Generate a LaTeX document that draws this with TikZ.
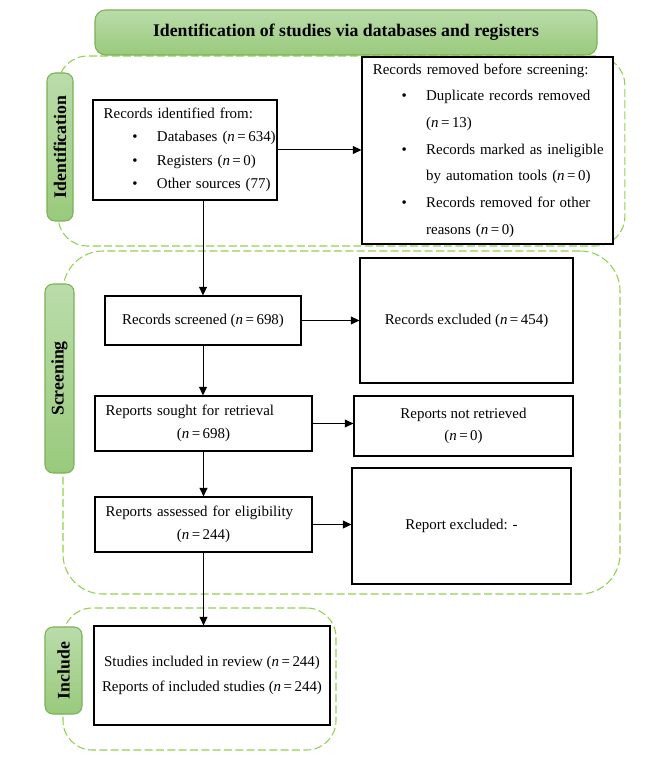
\documentclass[tikz,border=0pt]{standalone}
\usepackage{fontspec}
\setmainfont{Liberation Serif}
\usetikzlibrary{arrows.meta,positioning}

\definecolor{dashgreen}{RGB}{146,208,80}
\definecolor{bargreen}{RGB}{122,178,86}
\definecolor{lightgreen}{RGB}{186,220,170}
\definecolor{midgreen}{RGB}{153,202,124}

\newcommand{\bul}{\hspace*{21.5pt}\makebox[18.5pt][l]{\textbullet}}
\newcommand{\cont}{\hspace*{40pt}}
\newcommand{\nval}{\textit{n}\,=\,}

\begin{document}
\begin{tikzpicture}[x=0.75pt, y=-0.75pt,
    phase/.style={
        rectangle,
        draw=dashgreen,
        dash pattern=on 6pt off 2.5pt,
        line width=0.8pt,
        inner sep=0pt
    },
    stage/.style={
        rectangle,
        rounded corners=6pt,
        draw=bargreen,
        line width=0.8pt,
        top color=lightgreen,
        bottom color=midgreen,
        font=\fontsize{13.3}{16}\selectfont\bfseries,
        rotate=90,
        inner sep=0pt
    },
    box/.style={
        rectangle,
        draw=black,
        fill=white,
        line width=0.85pt,
        inner xsep=8pt,
        inner ysep=0pt,
        font=\fontsize{11.2}{17}\selectfont
    },
    arrow/.style={-{Triangle[length=6.5pt,width=6pt]}, line width=0.75pt}
]
\useasboundingbox (0,0) rectangle (664,766);

% Phase regions
\node[phase, rounded corners=22pt, minimum width=425pt, minimum height=142.5pt] (idregion) at (341.5,151) {};
\node[phase, rounded corners=30pt, minimum width=417.75pt, minimum height=257.25pt] (scregion) at (341.5,422.5) {};
\node[phase, rounded corners=22pt, minimum width=204.75pt, minimum height=106.5pt] (inregion) at (199.5,679) {};

% Title bar
\node[rectangle, rounded corners=8pt, draw=bargreen, line width=0.8pt,
      top color=lightgreen, bottom color=midgreen,
      minimum width=376.5pt, minimum height=33.75pt,
      font=\fontsize{13.3}{16}\selectfont\bfseries] (title) at (346,32.5)
      {Identification of studies via databases and registers};

% Stage labels
\node[stage, minimum width=111pt, minimum height=19.5pt] (idlabel) at (60,147) {Identification};
\node[stage, minimum width=141.75pt, minimum height=21.75pt] (sclabel) at (59.5,378.5) {Screening};
\node[stage, minimum width=65.25pt, minimum height=27.75pt] (inlabel) at (63.5,670.5) {Include};

% Identification
\node[box, minimum width=138pt, minimum height=75pt, text width=122pt, align=left,
      font=\fontsize{11.2}{17.5}\selectfont] (ident) at (185,150)
      {\mbox{Records identified from:}\\
       \mbox{\bul Databases (\nval 634)}\\
       \mbox{\bul Registers (\nval 0)}\\
       \mbox{\bul Other sources (77)}};
\node[box, minimum width=188.25pt, minimum height=140.25pt, text width=172pt, align=left,
      font=\fontsize{11.2}{20}\selectfont] (removed) at (487.5,150.5)
      {\mbox{Records removed before screening:}\\
       \mbox{\bul Duplicate records removed}\\
       \mbox{\cont (\nval 13)}\\
       \mbox{\bul Records marked as ineligible}\\
       \mbox{\cont by automation tools (\nval 0)}\\
       \mbox{\bul \makebox[132pt][s]{Records removed for other}}\\
       \mbox{\cont reasons (\nval 0)}};

% Screening
\node[box, minimum width=147pt, minimum height=36.75pt] (screened) at (203,320.5) {Records screened (\nval 698)};
\node[box, minimum width=159.75pt, minimum height=93.75pt] (excluded) at (466.5,320.5) {Records excluded (\nval 454)};
\node[box, minimum width=162.75pt, minimum height=41.25pt, text width=146.75pt, align=center] (sought) at (203.5,423.5)
      {\makebox[146.75pt][l]{Reports sought for retrieval}\\ (\nval 698)};
\node[box, minimum width=164.25pt, minimum height=45pt, align=center, font=\fontsize{11.2}{16.5}\selectfont] (notretr) at (463.5,426)
      {Reports not retrieved\\ (\nval 0)};
\node[box, minimum width=162.75pt, minimum height=41.25pt, text width=146.75pt, align=center] (assessed) at (203.5,524.5)
      {\makebox[146.75pt][l]{Reports assessed for eligibility}\\ (\nval 244)};
\node[box, minimum width=164.25pt, minimum height=87pt] (repexcl) at (461.5,526) {\raisebox{3pt}{Report excluded: -}};

% Include
\node[box, inner xsep=0pt, minimum width=177pt, minimum height=74.25pt, align=center, font=\fontsize{11.2}{19}\selectfont] (included) at (212,675.5)
      {Studies included in review (\nval 244)\\ Reports of included studies (\nval 244)};

% Arrows
\draw[arrow] (ident.east) -- (ident.east -| removed.west);
\draw[arrow] (ident.south -| screened.north) -- (screened.north);
\draw[arrow] (screened.east) -- (screened.east -| excluded.west);
\draw[arrow] (screened.south) -- (screened.south |- sought.north);
\draw[arrow] (sought.east) -- (sought.east -| notretr.west);
\draw[arrow] (sought.south) -- (sought.south |- assessed.north);
\draw[arrow] (assessed.east) -- (assessed.east -| repexcl.west);
\draw[arrow] (assessed.south) -- (assessed.south |- included.north);

\end{tikzpicture}
\end{document}
